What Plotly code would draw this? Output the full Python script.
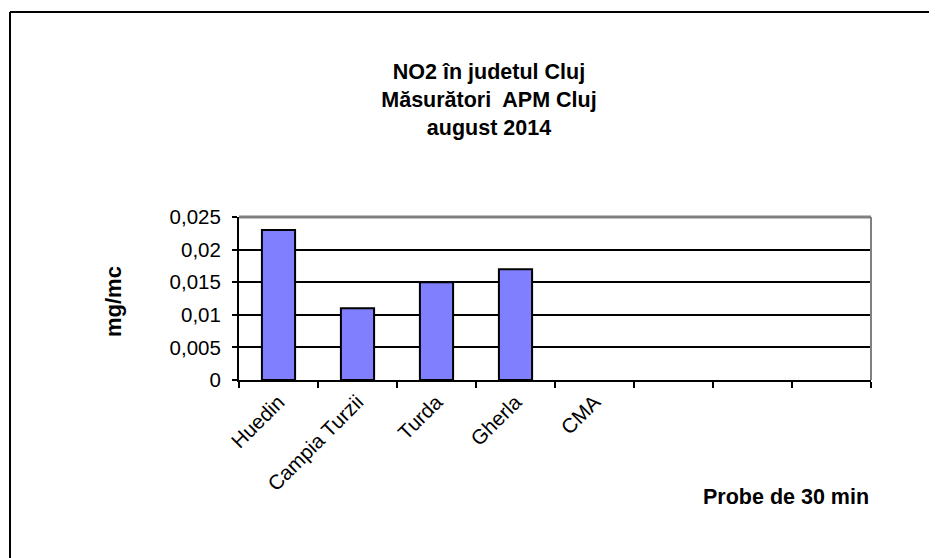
import plotly.graph_objects as go

categories = ["Huedin", "Campia Turzii", "Turda", "Gherla", "CMA", " ", "  ", "   "]
values = [0.023, 0.011, 0.015, 0.017, None, None, None, None]
y_ticks = [0, 0.005, 0.01, 0.015, 0.02, 0.025]

OFF = 8  # page body margin
W, H = 937, 558
# target plot area in screenshot pixels
PL, PR, PT, PB = 239, 871, 217, 380
L, T = PL - OFF, PT - OFF
R, B = W - (PR - OFF), H - (PB - OFF)
pw, ph = W - L - R, H - T - B

def px_x(x):
    return (x - OFF - L) / pw

def px_y(y):
    return (H - B - (y - OFF)) / ph

FONT = "Liberation Sans, Arial, sans-serif"

fig = go.Figure()
fig.add_trace(go.Bar(
    x=categories, y=values,
    marker=dict(color="#8080FF", line=dict(color="black", width=2)),
))

fig.update_layout(
    width=W, height=H,
    margin=dict(l=L, r=R, t=T, b=B),
    paper_bgcolor="white", plot_bgcolor="white",
    separators=",.",
    bargap=0.58,
    showlegend=False,
    font=dict(family=FONT, color="black", size=18),
    title=dict(
        text="<b>NO2 în judetul Cluj<br>Măsurători  APM Cluj<br>august 2014</b>",
        x=(489 - OFF) / W, xref="container", xanchor="center",
        y=1 - (79 - OFF) / H, yref="container", yanchor="middle",
        font=dict(family=FONT, size=21.5, color="black"),
    ),
    xaxis=dict(
        type="category",
        tickson="boundaries",
        ticks="outside", ticklen=6, tickwidth=2, tickcolor="black",
        showline=True, linecolor="black", linewidth=2,
        showgrid=False,
        tickangle=-45,
        tickfont=dict(family=FONT, size=20.5, color="black"),
    ),
    yaxis=dict(
        range=[0, 0.025],
        tickvals=y_ticks,
        ticks="outside", ticklen=5, tickwidth=2, tickcolor="black",
        showline=True, linecolor="black", linewidth=2,
        showgrid=True, gridcolor="black", gridwidth=1.5,
        zeroline=False,
        ticklabelstandoff=7,
        tickfont=dict(family=FONT, size=20.5, color="black"),
    ),
    shapes=[
        dict(type="line", xref="paper", yref="paper", x0=0, x1=1, y0=1, y1=1,
             line=dict(color="#808080", width=3), layer="above"),
        dict(type="line", xref="paper", yref="paper", x0=1, x1=1, y0=0, y1=1,
             line=dict(color="#808080", width=2), layer="above"),
        dict(type="line", xref="paper", yref="paper", x0=px_x(10), x1=px_x(960),
             y0=px_y(12), y1=px_y(12), line=dict(color="black", width=2)),
        dict(type="line", xref="paper", yref="paper", x0=px_x(10), x1=px_x(10),
             y0=px_y(12), y1=px_y(580), line=dict(color="black", width=2)),
    ],
    annotations=[
        dict(text="<b>mg/mc</b>", textangle=-90, xref="paper", yref="paper",
             x=px_x(113), y=px_y(302), xanchor="center", yanchor="middle",
             showarrow=False, font=dict(family=FONT, size=22, color="black")),
        dict(text="<b>Probe de 30 min</b>", xref="paper", yref="paper",
             x=px_x(871), y=px_y(497), xanchor="right", yanchor="middle",
             showarrow=False, font=dict(family=FONT, size=21.5, color="black")),
    ],
)

fig.write_html("out.html")
